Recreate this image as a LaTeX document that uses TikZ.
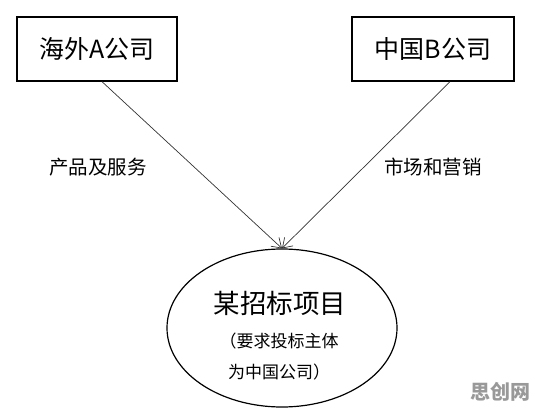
\documentclass[tikz,border=0pt]{standalone}
\usepackage{fontspec}
\setmainfont{Noto Sans CJK SC}
\usepackage{tikz}
\usetikzlibrary{arrows.meta,shapes.geometric,positioning}
\usepackage{xcolor}
\newcommand{\boxht}{64pt}
\tikzset{
    compsty/.style={draw,line width=1.3pt,rectangle,minimum height=\boxht,inner sep=0pt,font=\fontsize{25}{30}\selectfont},
    projsty/.style={draw,line width=1.2pt,ellipse,minimum width=230pt,minimum height=158pt,inner sep=0pt},
    titlesty/.style={font=\fontsize{26.5}{30}\selectfont,inner sep=0pt},
    notesty/.style={font=\fontsize{17}{31}\selectfont,align=left,inner sep=0pt,anchor=west},
    flowsty/.style={font=\fontsize{19.5}{24}\selectfont,inner sep=0pt},
    linesty/.style={draw=black!80,line width=0.7pt,-{Straight Barb[length=9pt,width=12pt]}},
    marksty/.style={font=\bfseries\fontsize{20}{24}\selectfont,text=gray!80,inner sep=0pt},
}

\begin{document}
\begin{tikzpicture}[x=1pt,y=-1pt]
\useasboundingbox (0,0) rectangle (542,415);

\node[compsty,minimum width=160pt] (A) at (97,49) {海外A公司};
\node[compsty,minimum width=162pt] (B) at (433,49) {中国B公司};
\node[projsty] (proj) at (282,328) {};

\node[titlesty] (projname) at (280,303) {某招标项目};
\node[notesty] (projnote) at (228,357) {\kern-.5em（要求投标主体\\为中国公司）};

\node[flowsty] (goods) at (98,167) {产品及服务};
\node[flowsty] (market) at (433,167) {市场和营销};

\draw[linesty] ([xshift=5pt]A.south) -- (proj.north);
\draw[linesty] ([xshift=17pt]B.south) -- (proj.north);

\node[marksty] (wmark) at (500,392) {思创网};
\end{tikzpicture}
\end{document}
